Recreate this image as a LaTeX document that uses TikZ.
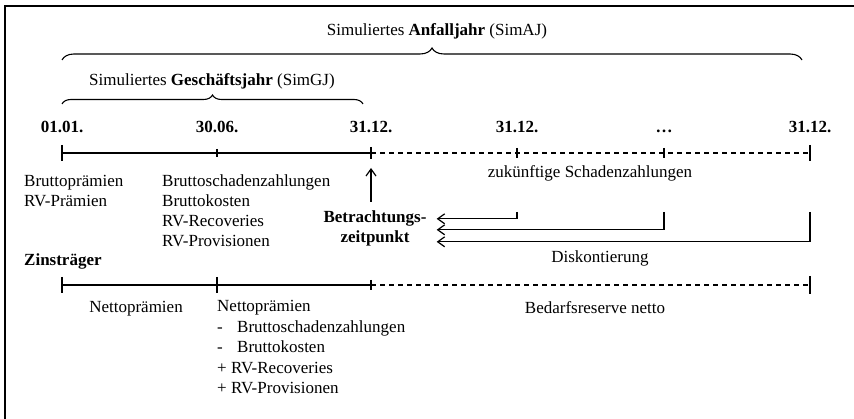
\documentclass[tikz,border=0pt]{standalone}
\usepackage{fontspec}
\setmainfont{Liberation Serif}
\usetikzlibrary{arrows.meta,positioning,calc,decorations.pathreplacing}

\tikzset{
  lbl/.style={inner sep=0pt,font=\fontsize{17}{19.8}\selectfont},
  fettlbl/.style={inner sep=0pt,font=\fontsize{17}{19.8}\selectfont\bfseries},
  lbllist/.style={lbl,align=left,anchor=north west},
  achse/.style={line width=1.2pt},
  zukunft/.style={line width=1.1pt,dash pattern=on 5pt off 4pt},
  klammer/.style={decorate,decoration={brace,amplitude=#1},line width=1.1pt},
}

\begin{document}
\begin{tikzpicture}[x=1pt,y=-1pt,>={Straight Barb[length=7pt,width=10pt]}]
\useasboundingbox (0,0) rectangle (854,419);
\draw[line width=1.3pt] (5,419) -- (5,6) -- (854,6);

% Anfalljahr / Geschaeftsjahr
\node[lbl,anchor=base] (aj) at (437,36) {Simuliertes \textbf{Anfalljahr} (SimAJ)};
\draw[klammer=12pt] (62,60) -- (802,60);
\node[lbl,anchor=base] (gj) at (212,86) {Simuliertes \textbf{Geschäftsjahr} (SimGJ)};
\draw[klammer=9pt] (62,104) -- (363,104);

% obere Zeitachse
\foreach \x/\lab/\name in {62/01.01./a0,217/30.06./a1,371/31.12./a2,517/31.12./a3,664/\dots/a4,810/31.12./a5} {
  \coordinate (\name) at (\x,153);
  \node[fettlbl,anchor=base] (d\name) at (\x,133) {\lab};
}
\draw[achse] (a0) -- (a2);
\draw[zukunft] (a2) -- (a5);
\foreach \p/\h in {a0/8,a1/4,a2/6,a3/5,a4/5,a5/8}
  \draw[achse] ([yshift=\h pt]\p) -- ([yshift=-\h pt]\p);

\node[lbllist] (bp) at (24,175) {Bruttoprämien\\RV-Prämien};
\node[lbllist] (bs) at (162,175) {Bruttoschadenzahlungen\\Bruttokosten\\RV-Recoveries\\RV-Provisionen};
\node[fettlbl,align=center,anchor=north] (bzp) at (375,211) {Betrachtungs-\\zeitpunkt};
\draw[achse,->] ($(bzp.north -| a2)+(0,-9)$) -- ($(a2)+(0,15)$);

\node[lbl,anchor=base] (zs) at (590,178) {zukünftige Schadenzahlungen};
\foreach \p/\dy in {a3/-10,a4/1,a5/13}
  \draw[achse,->] ($(\p)+(0,59)$) |- ($(bzp.east)+(10,\dy)$);
\node[lbl,anchor=base] (dk) at (600,263) {Diskontierung};

% Zinstraeger
\node[fettlbl,anchor=base west] (zt) at (24,266) {Zinsträger};
\foreach \x/\name in {62/b0,217/b1,371/b2,810/b3}
  \coordinate (\name) at (\x,285);
\draw[achse] (b0) -- (b2);
\draw[zukunft] (b2) -- (b3);
\foreach \p/\h in {b0/8,b1/8,b2/5,b3/9}
  \draw[achse] ([yshift=\h pt]\p) -- ([yshift=-\h pt]\p);

\node[lbl,anchor=base] (np) at (136,313) {Nettoprämien};
\node[lbllist,font=\fontsize{17}{20.6}\selectfont] (nb) at (217,300) {Nettoprämien\\\makebox[20pt][l]{-}Bruttoschadenzahlungen\\\makebox[20pt][l]{-}Bruttokosten\\+ RV-Recoveries\\+ RV-Provisionen};
\node[lbl,anchor=base] (br) at (595,314) {Bedarfsreserve netto};
\end{tikzpicture}
\end{document}
